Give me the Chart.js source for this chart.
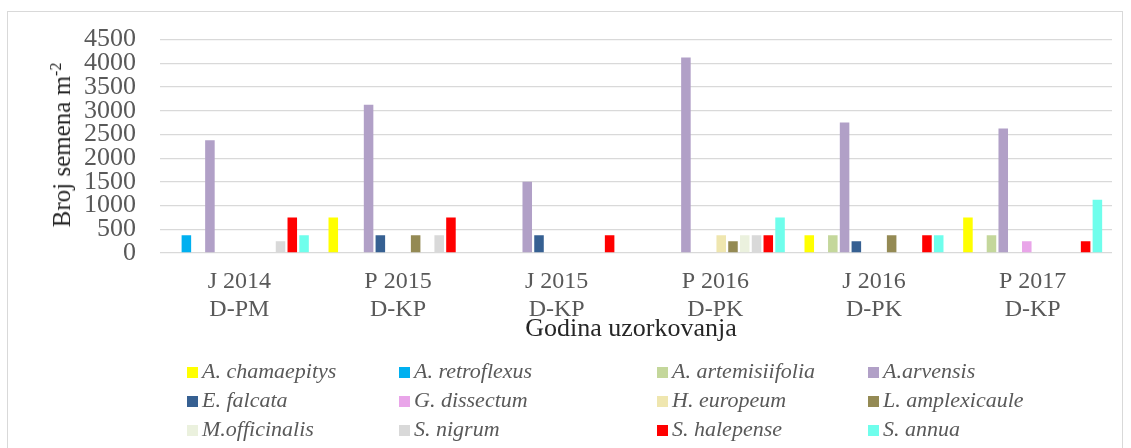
<!DOCTYPE html>
<html>
<head>
<meta charset="utf-8">
<script src="https://cdn.jsdelivr.net/npm/chart.js@4"></script>
<style>
  html, body { margin: 0; padding: 0; background: #fff; }
  #wrap { position: relative; width: 1131px; height: 448px; overflow: hidden; }
  #frame { position: absolute; left: 7px; top: 11px; width: 1116px; height: 460px; border: 1px solid #d9d9d9; box-sizing: border-box; }
  #chart { position: absolute; left: 0; top: 0; }
  .title { position: absolute; font-family: "Liberation Serif", "Times New Roman", serif; font-size: 25px; color: #262626; white-space: nowrap; }
  #ytitle { left: 62px; top: 145px; transform: translate(-50%, -50%) rotate(-90deg); }
  #ytitle sup { font-size: 16px; vertical-align: 9px; line-height: 0; }
  #xtitle { left: 631px; top: 328px; font-size: 26px; transform: translate(-50%, -50%); }
  #legend { position: absolute; left: 187px; top: 356px; font-family: "Liberation Serif", "Times New Roman", serif; font-style: italic; font-size: 22px; color: #595959; }
  .item { position: absolute; white-space: nowrap; height: 29px; line-height: 29px; }
  .item i { display: inline-block; width: 11px; height: 11px; margin-right: 4px; vertical-align: 0px; }
</style>
</head>
<body>
<div id="wrap">
  <div id="frame"></div>
  <canvas id="chart" width="1131" height="448"></canvas>
  <div class="title" id="ytitle">Broj semena m<sup>-2</sup></div>
  <div class="title" id="xtitle">Godina uzorkovanja</div>
  <div id="legend"></div>
</div>
<script>
const categories = [
    ['J 2014', 'D-PM'],
    ['P 2015', 'D-KP'],
    ['J 2015', 'D-KP'],
    ['P 2016', 'D-PK'],
    ['J 2016', 'D-PK'],
    ['P 2017', 'D-KP']
];

const species = [
    'A. chamaepitys', 'A. retroflexus', 'A. artemisiifolia', 'A.arvensis',
    'E. falcata', 'G. dissectum', 'H. europeum', 'L. amplexicaule',
    'M.officinalis', 'S. nigrum', 'S. halepense', 'S. annua'
];

// seeds per m2 for each species, one value per sampling
const chamaepitys    = [0, 750, 0, 0, 375, 750];
const retroflexus    = [375, 0, 0, 0, 0, 0];
const artemisiifolia = [0, 0, 0, 0, 375, 375];
const arvensis       = [2375, 3125, 1500, 4125, 2750, 2625];
const falcata        = [0, 375, 375, 0, 250, 0];
const dissectum      = [0, 0, 0, 0, 0, 250];
const europeum       = [0, 0, 0, 375, 0, 0];
const amplexicaule   = [0, 375, 0, 250, 375, 0];
const officinalis    = [0, 0, 0, 375, 0, 0];
const nigrum         = [250, 375, 0, 375, 0, 0];
const halepense      = [750, 750, 375, 375, 375, 250];
const annua          = [375, 0, 0, 750, 375, 1125];

const seriesValues = [
    chamaepitys, retroflexus, artemisiifolia, arvensis, falcata, dissectum,
    europeum, amplexicaule, officinalis, nigrum, halepense, annua
];

const yMax = 4500;
const yStep = 500;

const colors = [
    '#ffff00', '#00b0f0', '#c4d79b', '#b1a0c7', '#366092', '#e9a5e9',
    '#efe6af', '#948a54', '#ebf1de', '#d9d9d9', '#ff0000', '#6ffeec'
];

const datasets = species.map((name, i) => ({
    label: name,
    data: seriesValues[i],
    backgroundColor: colors[i],
    borderWidth: 0,
    categoryPercentage: 0.89,
    barPercentage: 0.81
}));

const serif = '"Liberation Serif", "Times New Roman", serif';

new Chart(document.getElementById('chart').getContext('2d'), {
    type: 'bar',
    data: { labels: categories, datasets: datasets },
    options: {
        responsive: false,
        animation: false,
        layout: { padding: { top: 36, right: 19, left: 0, bottom: 0 } },
        plugins: {
            legend: { display: false },
            tooltip: { enabled: false }
        },
        scales: {
            x: {
                grid: { display: false },
                border: { display: false },
                ticks: {
                    color: '#595959',
                    font: { family: serif, size: 24, lineHeight: '28px' },
                    padding: 7,
                    maxRotation: 0,
                    autoSkip: false
                },
                afterFit: scale => { scale.height = 195; }
            },
            y: {
                min: 0,
                max: yMax,
                grid: { color: '#d9d9d9', lineWidth: 1.3, drawTicks: false },
                border: { display: false },
                ticks: {
                    stepSize: yStep,
                    autoSkip: false,
                    color: '#595959',
                    font: { family: serif, size: 26 },
                    padding: 24,
                    callback: v => String(v)
                },
                afterFit: scale => { scale.width = 160; }
            }
        }
    }
});

// legend laid out in four fixed columns
const legend = document.getElementById('legend');
const colLeft = [0, 212, 470, 681];
species.forEach((name, i) => {
    const item = document.createElement('div');
    item.className = 'item';
    item.style.left = colLeft[i % 4] + 'px';
    item.style.top = (Math.floor(i / 4) * 29) + 'px';
    item.innerHTML = '<i style="background:' + colors[i] + '"></i>' + name;
    legend.appendChild(item);
});
</script>
</body>
</html>
